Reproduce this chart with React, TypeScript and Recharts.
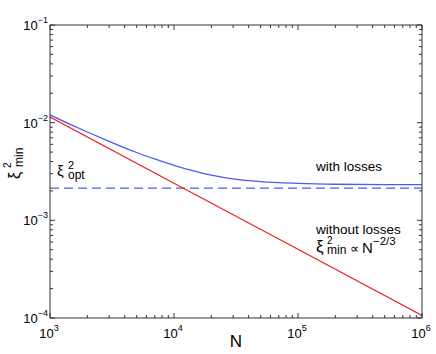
import React from "react";
import {
  LineChart,
  Line,
  XAxis,
  YAxis,
  ReferenceLine,
} from "recharts";

// values (log-log)
const nWithout = [1e3, 1e4, 1e5, 1e6];
const xiWithout = [1.14e-2, 2.4e-3, 5.06e-4, 1.06e-4];

const nWith = [1e3, 1.5e3, 2e3, 3e3, 4e3, 5e3, 7e3, 1e4, 1.6e4, 2e4, 3e4, 5e4, 1e5, 2e5, 5e5, 1e6];
const xiWith = [
  1.2e-2, 9.44e-3, 8.02e-3, 6.43e-3, 5.53e-3, 4.95e-3, 4.25e-3, 3.66e-3, 3.1e-3,
  2.91e-3, 2.66e-3, 2.49e-3, 2.39e-3, 2.34e-3, 2.32e-3, 2.32e-3,
];

const xiOpt = [2.14e-3];

const xDecades = [1e3, 1e4, 1e5, 1e6];
const yDecades = [1e-4, 1e-3, 1e-2, 1e-1];
const mantissas = [1, 2, 3, 4, 5, 6, 7, 8, 9];

const withData = nWith.map((n, i) => ({ n, v: xiWith[i] }));
const withoutData = nWithout.map((n, i) => ({ n, v: xiWithout[i] }));

const minorTicks = (decades: number[]) => {
  const out: number[] = [];
  decades.forEach((d, i) => {
    if (i === decades.length - 1) out.push(d);
    else mantissas.forEach((m) => out.push(d * m));
  });
  return out;
};

const X_TICKS = minorTicks(xDecades);
const Y_TICKS = minorTicks(yDecades);

const FONT = "'Liberation Sans', Arial, sans-serif";
const AXIS = "#333";
const BLUE = "#4a5cf2";
const RED = "#ee2222";

const isDecade = (v: number) =>
  Math.abs(Math.log10(v) - Math.round(Math.log10(v))) < 1e-6;

function Pow({ x, y, exp, anchor }: { x: number; y: number; exp: number; anchor: string }) {
  const e = exp < 0 ? "\u2212" + Math.abs(exp) : String(exp);
  return (
    <text x={x} y={y} textAnchor={anchor} fontFamily={FONT} fill="#000" fontSize={13}>
      10
      <tspan dy={-7} fontSize={9}>
        {e}
      </tspan>
    </text>
  );
}

function tickFor(side: "left" | "right" | "top" | "bottom") {
  return (props: any) => {
    const { x, y, payload } = props;
    const v = payload.value;
    const major = isDecade(v);
    const len = major ? 5 : 3;
    let line;
    if (side === "left") line = <line x1={x} x2={x + len} y1={y} y2={y} stroke={AXIS} />;
    else if (side === "right") line = <line x1={x - len} x2={x} y1={y} y2={y} stroke={AXIS} />;
    else if (side === "top") line = <line x1={x} x2={x} y1={y} y2={y + len} stroke={AXIS} />;
    else line = <line x1={x} x2={x} y1={y - len} y2={y} stroke={AXIS} />;
    const exp = Math.round(Math.log10(v));
    return (
      <g>
        {line}
        {major && side === "left" && <Pow x={x - 2} y={y + 5} exp={exp} anchor="end" />}
        {major && side === "bottom" && <Pow x={x - 1} y={y + 20} exp={exp} anchor="middle" />}
      </g>
    );
  };
}

export default function App() {
  return (
    <div style={{ position: "absolute", left: 0, top: 0, width: 436, height: 354, background: "#fff" }}>
      <LineChart width={436} height={354} margin={{ top: 0, right: 0, bottom: 0, left: 0 }}>
        <XAxis
          xAxisId="b"
          dataKey="n"
          type="number"
          scale="log"
          domain={[1e3, 1e6]}
          allowDataOverflow
          ticks={X_TICKS}
          interval={0}
          height={36}
          tickSize={0}
          tickMargin={0}
          tickLine={false}
          axisLine={{ stroke: AXIS }}
          tick={tickFor("bottom")}
        />
        <XAxis
          xAxisId="t"
          orientation="top"
          dataKey="n"
          type="number"
          scale="log"
          domain={[1e3, 1e6]}
          allowDataOverflow
          ticks={X_TICKS}
          interval={0}
          height={25}
          tickSize={0}
          tickMargin={0}
          tickLine={false}
          axisLine={{ stroke: AXIS }}
          tick={tickFor("top")}
        />
        <YAxis
          yAxisId="l"
          type="number"
          scale="log"
          domain={[1e-4, 1e-1]}
          allowDataOverflow
          ticks={Y_TICKS}
          interval={0}
          width={50}
          tickSize={0}
          tickMargin={0}
          tickLine={false}
          axisLine={{ stroke: AXIS }}
          tick={tickFor("left")}
        />
        <YAxis
          yAxisId="r"
          orientation="right"
          type="number"
          scale="log"
          domain={[1e-4, 1e-1]}
          allowDataOverflow
          ticks={Y_TICKS}
          interval={0}
          width={14}
          tickSize={0}
          tickMargin={0}
          tickLine={false}
          axisLine={{ stroke: AXIS }}
          tick={tickFor("right")}
        />
        <ReferenceLine
          xAxisId="b"
          yAxisId="l"
          y={xiOpt[0]}
          stroke={BLUE}
          strokeWidth={1.3}
          strokeDasharray="9 5"
        />
        <Line
          xAxisId="b"
          yAxisId="l"
          data={withData}
          dataKey="v"
          stroke={BLUE}
          strokeWidth={1.3}
          dot={false}
          type="monotone"
          isAnimationActive={false}
        />
        <Line
          xAxisId="b"
          yAxisId="l"
          data={withoutData}
          dataKey="v"
          stroke={RED}
          strokeWidth={1.3}
          dot={false}
          type="linear"
          isAnimationActive={false}
        />
      </LineChart>
      <svg
        width={436}
        height={354}
        style={{ position: "absolute", left: 0, top: 0, pointerEvents: "none" }}
        fontFamily={FONT}
        fill="#000"
      >
        {/* y axis label: xi^2_min, rotated */}
        <text transform="translate(20,179) rotate(-90)" fontSize={16}>ξ</text>
        <text transform="translate(11,168) rotate(-90)" fontSize={10}>2</text>
        <text transform="translate(23,167) rotate(-90)" fontSize={12}>min</text>

        {/* xi^2_opt */}
        <text x={57} y={176} fontSize={15}>ξ</text>
        <text x={68} y={169} fontSize={11}>2</text>
        <text x={68} y={179} fontSize={12}>opt</text>

        <text x={316} y={171} fontSize={13.5}>with losses</text>
        <text x={316} y={234} fontSize={13.5}>without losses</text>

        <text x={316} y={252} fontSize={17}>ξ</text>
        <text x={327} y={244} fontSize={10}>2</text>
        <text x={327} y={254} fontSize={12}>min</text>
        <text x={350} y={253} fontSize={13}>∝</text>
        <text x={362} y={253} fontSize={15}>N</text>
        <text x={373} y={245} fontSize={11.5}>−2/3</text>

        <text x={236} y={347} fontSize={17} textAnchor="middle">N</text>
      </svg>
    </div>
  );
}
